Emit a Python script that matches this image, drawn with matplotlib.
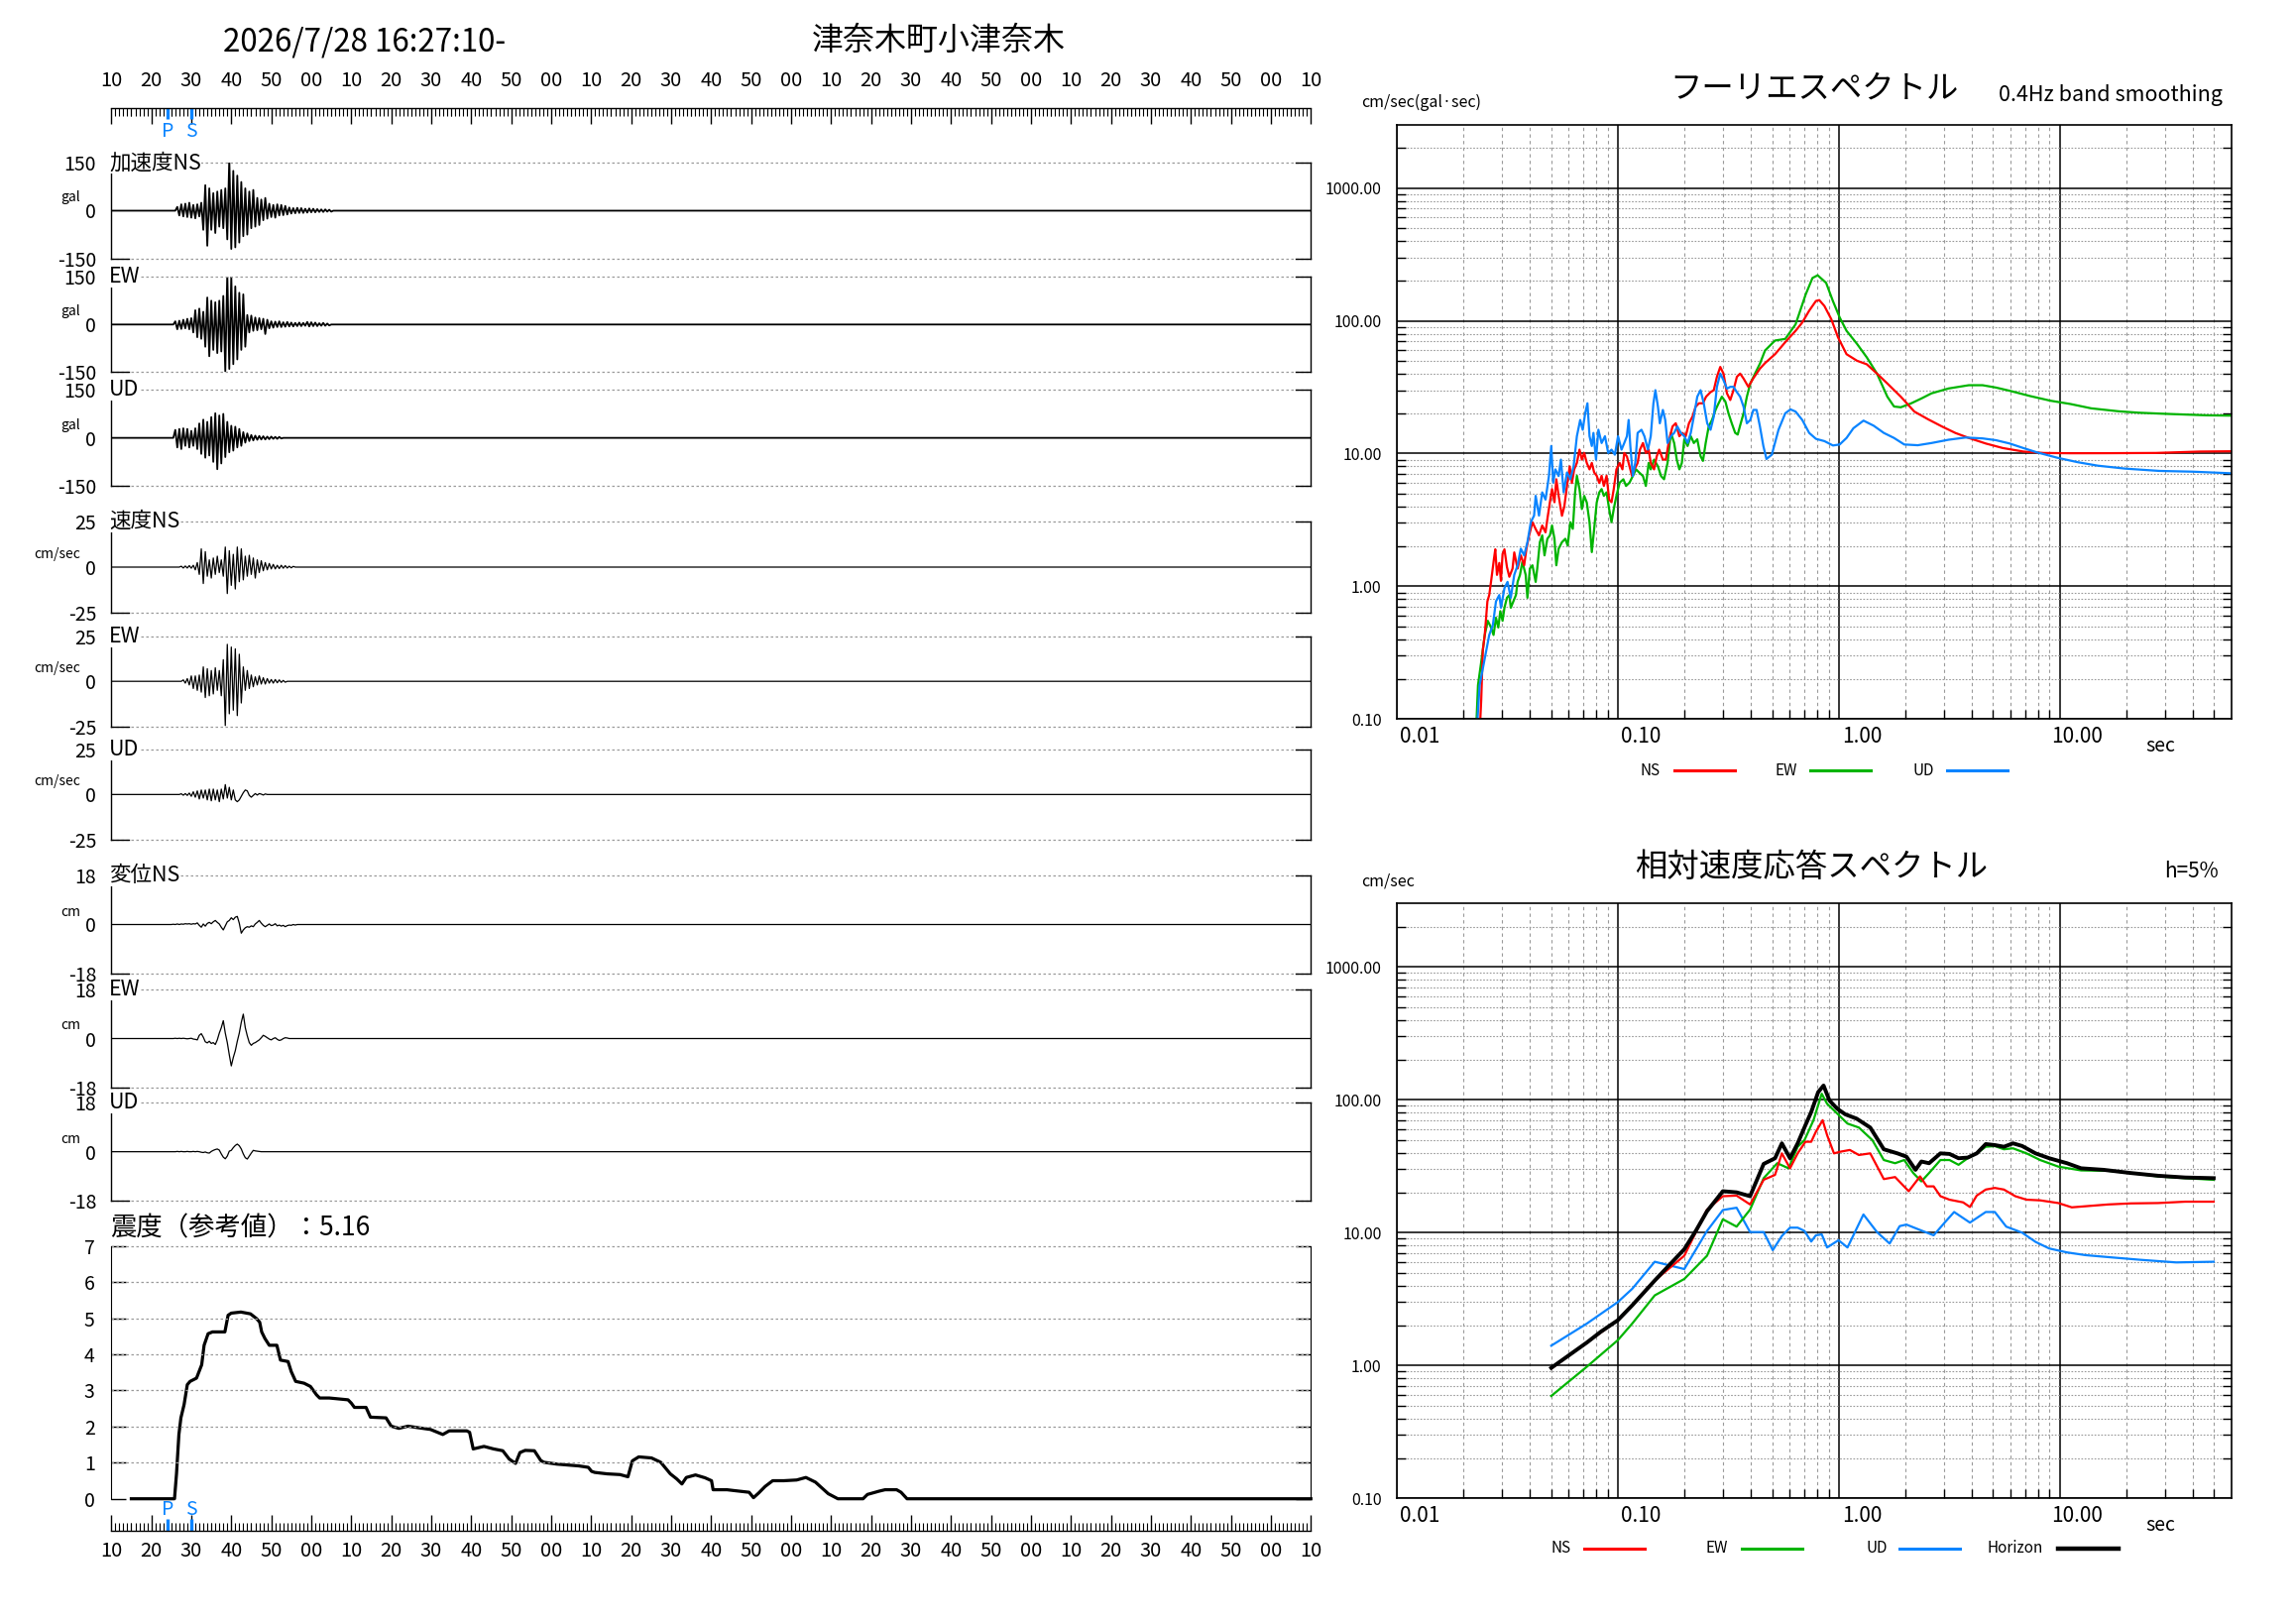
import numpy as np
import matplotlib
matplotlib.use("Agg")
import matplotlib.pyplot as plt
from matplotlib.lines import Line2D
from matplotlib.ticker import FixedLocator, NullFormatter, MultipleLocator
from matplotlib.transforms import ScaledTranslation

plt.rcParams['font.family'] = ['Noto Sans CJK JP', 'DejaVu Sans']

# ------------------------------------------------------------------ data
start_label = "2026/7/28 16:27:10-"
station = "津奈木町小津奈木"
T_END = 300          # seconds shown (16:27:10 + 300 s)
DT = 0.5             # sample step of the traced waveforms (s)
phase_names = ["P", "S"]
phase_times = [14.0, 20.0]

# acceleration (gal)
acc_ns_t0 = 16.0
acc_ns = [0, 12, -15, 20, -18, 22, -20, 25, -22, 18,
          -24, 20, -18, 25, -60, 80, -110, 70, -60, 55,
          -70, 60, -50, 65, -55, 70, -90, 165, -120, 125,
          -115, 110, -100, 90, -80, 70, -75, 60, -55, 65,
          -50, 40, -45, 35, -30, 40, -25, 22, -20, 18,
          -22, 20, -15, 18, -14, 15, -12, 10, -9, 8,
          -8, 9, -7, 8, -7, 6, -6, 7, -5, 6,
          -5, 5, -4, 4, -4, 4, -3, 3, -3, 0]
acc_ew_t0 = 15.5
acc_ew = [0, 10, -15, 12, -14, 15, -12, 18, -15, 20,
          -25, 45, -40, 50, -45, 40, -70, 85, -100, 75,
          -80, 70, -90, 75, -85, 90, -148, 163, -140, 155,
          -125, 120, -110, 100, -80, 95, -70, 30, -25, 28,
          -20, 22, -18, 20, -15, 18, -30, 15, -12, 10,
          -10, 9, -8, 10, -8, 7, -7, 8, -6, 6,
          -6, 5, -5, 6, -5, 5, -4, 8, -6, 7,
          -5, 6, -5, 4, -4, 5, -4, 3, -3, 0]
acc_ud_t0 = 15.5
acc_ud = [0, 25, -30, 28, -35, 30, -25, 28, -30, 22,
          -25, 30, -35, 45, -50, 57, -62, 50, -55, 65,
          -75, 77, -98, 70, -80, 75, -60, 50, -45, 38,
          -40, 35, -30, 28, -25, 18, -15, 14, -10, 9,
          -8, 7, -6, 6, -5, 5, -5, 4, -4, 4,
          -3, 3, -3, 3, -2, 0]

# velocity (cm/sec)
vel_ns_t0 = 17.0
vel_ns = [0, 0.5, -0.5, 0.6, -0.5, 0.8, -0.6, 1, -1.5, 2.5,
          -4, 10, -9, 8.5, -5, 4, -6, 5, -4, 6,
          -3, 4, -5, 11, -14.5, 9, -10, 7, -12, 11,
          -8, 10, -7, 6, -5, 6.5, -4, 5, -6, 4,
          -3, 3.5, -2, 2.5, -1.5, 2, -1, 1.5, -1, 1,
          -0.8, 1, -0.6, 0.8, -0.5, 0.5, -0.4, 0.4, 0]
vel_ew_t0 = 17.5
vel_ew = [0, 0.8, -1, 1.5, -2, 3, -4, 3, -5, 3.5,
          -6, 8, -9, 7, -8, 6, -7, 7.5, -5, 6,
          -8, 12, -24.5, 20.5, -18, 19, -16, 18, -19, 15,
          -12, 8, -5, 6, -4, 3.5, -3, 2.5, -2, 3,
          -1.5, 2, -1.5, 1.5, -1, 1, -1, 1, -0.8, 0.8,
          -0.6, 0.5, -0.5, 0]
vel_ud_t0 = 17.0
vel_ud = [0, 0.4, -0.4, 0.5, -0.5, 0.8, -1, 1.5, -1.5, 2,
          -2.5, 2.5, -2, 2.5, -3, 3, -3.5, 3, -3, 2.5,
          -4, 3, -2.5, 5.5, -2, 4, -3, 2.5, -3, -4,
          -3, -1, 1, 2.5, 2, -0.5, -1.5, -0.5, 0.5, -0.3,
          0.5, 0.2, -0.3, 0.3, 0]

# displacement (cm)
dis_ns_t0 = 15.0
dis_ns = [0, 0.1, 0, 0.2, 0, 0.2, 0.1, 0.3, 0.2, 0.3,
          0.1, 0.3, 0.2, 0.6, -0.3, -1.0, 0.2, -0.6, 0.4, 0.8,
          0.3, 1.0, 1.5, 0.8, 0.2, -1.0, -2.0, -0.5, 1.0, 1.5,
          2.5, 1.8, 2.7, 3.0, 0.5, -3.2, -2.0, -1.2, -0.8, -1.0,
          -0.5, -0.8, 0.2, 0.8, 1.5, 0.5, -0.3, -0.8, -0.3, 0.2,
          -0.4, -0.2, 0.3, -0.5, -0.2, -0.6, -0.3, -0.8, -0.4, -0.2,
          -0.3, 0, -0.2, 0]
dis_ew_t0 = 15.0
dis_ew = [0, 0, 0.1, 0, 0.1, 0, 0.1, 0, -0.1, 0,
          0.1, -0.2, -0.3, -0.5, 1.2, 1.8, 0.5, -1.2, -1.6, -1.0,
          -1.8, -1.5, -2.2, -0.5, 2.0, 4.0, 6.6, 2.0, -1.5, -6.0,
          -10.1, -7.0, -4.5, -1.0, 2.0, 6.0, 9.0, 4.0, 1.0, -1.5,
          -2.5, -1.8, -1.5, -1.0, -0.5, 0.3, 1.2, 0.8, 0.3, -0.2,
          -0.5, 0, 0.3, -0.3, -0.7, -0.5, 0, 0.3, 0.2, 0]
dis_ud_t0 = 15.0
dis_ud = [0, 0, 0, 0.1, 0, 0.1, 0, 0, 0.1, 0,
          0, 0.1, 0, 0.1, 0, -0.2, -0.3, -0.1, -0.4, -0.5,
          0.1, 0.5, 0.8, 1.0, 0.6, -0.8, -2.0, -2.6, -1.6, 0.2,
          0.5, 1.5, 2.3, 2.8, 2.2, 1.0, -0.8, -2.2, -2.7, -1.6,
          -0.5, 0.5, 0.3, 0.2, 0.1, 0]

# real-time seismic intensity (s after 16:27:10, value)
shindo_label = "震度（参考値）：5.16"
shindo_t = [5, 15.8, 16.3, 16.9, 17.4, 18.2, 19.0, 19.7, 21.3, 22.6,
            23.2, 24.2, 25.3, 28.4, 29.2, 30.0, 32.4, 34.8, 36.3, 37.1,
            37.6, 38.4, 39.5, 41.4, 42.3, 44.2, 45.0, 46.1, 48.2, 49.8,
            51.3, 52.1, 54.5, 59.2, 60.0, 60.8, 63.7, 64.8, 68.7, 70.0,
            71.9, 74.2, 76.6, 79.8, 82.9, 84.5, 88.9, 89.6, 90.5, 93.2,
            95.6, 97.9, 99.5, 101.1, 102.2, 103.5, 105.8, 107.4, 108.2, 111.4,
            116.9, 119.3, 120.1, 120.9, 124.0, 127.2, 129.2, 130.3, 131.9, 135.1,
            137.4, 139.8, 141.4, 142.7, 143.8, 146.1, 148.5, 150.1, 150.5, 154.0,
            155.5, 159.5, 160.6, 161.9, 163.5, 165.4, 168.2, 171.4, 173.7, 176.1,
            177.7, 179.3, 181.7, 188.0, 189.1, 192.0, 193.5, 196.4, 197.5, 199.0,
            300]
shindo_v = [0, 0, 0.69, 1.78, 2.24, 2.61, 3.16, 3.25, 3.34, 3.71,
            4.25, 4.57, 4.62, 4.62, 5.08, 5.14, 5.17, 5.12, 4.99, 4.89,
            4.62, 4.44, 4.25, 4.25, 3.84, 3.80, 3.52, 3.25, 3.20, 3.11,
            2.88, 2.79, 2.79, 2.74, 2.65, 2.53, 2.53, 2.26, 2.24, 2.01,
            1.95, 2.01, 1.97, 1.92, 1.78, 1.88, 1.88, 1.84, 1.38, 1.45,
            1.38, 1.33, 1.10, 0.98, 1.28, 1.34, 1.33, 1.06, 1.01, 0.96,
            0.91, 0.87, 0.76, 0.73, 0.69, 0.67, 0.61, 1.05, 1.16, 1.13,
            1.01, 0.69, 0.55, 0.41, 0.59, 0.66, 0.58, 0.50, 0.25, 0.25,
            0.23, 0.18, 0.03, 0.16, 0.34, 0.50, 0.50, 0.52, 0.59, 0.46,
            0.30, 0.14, 0, 0, 0.12, 0.21, 0.25, 0.25, 0.18, 0,
            0]

# Fourier spectra (period s, cm/sec)
fs_ns_T = [0.0238, 0.0241, 0.0245, 0.0250, 0.0257, 0.0262, 0.0268, 0.0275, 0.0279, 0.0284,
           0.0291, 0.0296, 0.0301, 0.0307, 0.0315, 0.0323, 0.0334, 0.0340, 0.0352, 0.0364,
           0.0377, 0.0386, 0.0397, 0.0411, 0.0425, 0.0440, 0.0455, 0.0471, 0.0480, 0.0493,
           0.0504, 0.0517, 0.0527, 0.0540, 0.0559, 0.0573, 0.0589, 0.0606, 0.0620, 0.0635,
           0.0653, 0.0671, 0.0688, 0.0705, 0.0724, 0.0745, 0.0763, 0.0782, 0.0803, 0.0825,
           0.0845, 0.0865, 0.0890, 0.0914, 0.0937, 0.0959, 0.0986, 0.102, 0.105, 0.107,
           0.110, 0.113, 0.116, 0.119, 0.123, 0.126, 0.130, 0.134, 0.138, 0.141,
           0.146, 0.150, 0.154, 0.160, 0.165, 0.171, 0.177, 0.183, 0.190, 0.196,
           0.203, 0.210, 0.218, 0.225, 0.233, 0.243, 0.251, 0.263, 0.272, 0.281,
           0.291, 0.301, 0.312, 0.323, 0.334, 0.346, 0.358, 0.371, 0.390, 0.410,
           0.440, 0.464, 0.515, 0.573, 0.638, 0.684, 0.735, 0.789, 0.817, 0.862,
           0.925, 0.993, 1.085, 1.21, 1.34, 1.49, 1.66, 1.91, 2.2, 2.54,
           2.93, 3.37, 3.88, 4.63, 5.53, 6.85, 8.47, 11.2, 16.0, 27.2,
           43.2, 59.8]
fs_ns_A = [0.09, 0.14, 0.33, 0.43, 0.77, 0.86, 1.14, 1.6, 1.9, 1.22,
           1.5, 1.1, 1.75, 1.9, 1.4, 1.18, 1.36, 1.8, 1.36, 1.71,
           1.44, 1.92, 2.42, 3.04, 2.7, 2.42, 2.87, 2.55, 3.2, 4.3,
           5.4, 4.3, 6.4, 4.8, 3.4, 4.0, 5.7, 8.0, 6.0, 7.6,
           8.5, 10.7, 9.0, 10.1, 8.5, 7.6, 8.5, 7.2, 6.8, 6.0,
           6.8, 5.7, 6.8, 4.5, 4.3, 5.4, 7.6, 8.5, 7.6, 10.1,
           9.5, 8.0, 6.8, 7.6, 8.5, 10.7, 12.0, 10.1, 10.7, 8.5,
           7.6, 9.5, 10.7, 9.0, 9.0, 12.8, 16.0, 16.9, 13.5, 14.3,
           13.5, 16.9, 19.0, 22.5, 23.9, 23.9, 26.8, 29.0, 30.0, 37.8,
           44.9, 40.0, 28.4, 25.3, 30.0, 37.8, 40.0, 36.7, 31.8, 36.7,
           43.6, 48, 56, 69, 84, 97, 119, 141, 143, 129,
           103, 75, 56, 50, 47, 40, 33.7, 26.8, 20.7, 18.1,
           16.0, 14.3, 13.1, 11.9, 11.0, 10.35, 10.1, 10.05, 10.06, 10.1,
           10.35, 10.4]

fs_ew_T = [0.0229, 0.0233, 0.0241, 0.0250, 0.0258, 0.0267, 0.0274, 0.0281, 0.0288, 0.0294,
           0.0301, 0.0307, 0.0315, 0.0323, 0.0328, 0.0337, 0.0346, 0.0352, 0.0361, 0.0370,
           0.0383, 0.0390, 0.0400, 0.0411, 0.0425, 0.0432, 0.0444, 0.0455, 0.0466, 0.0480,
           0.0493, 0.0504, 0.0517, 0.0527, 0.0540, 0.0559, 0.0579, 0.0593, 0.0610, 0.0626,
           0.0641, 0.0653, 0.0671, 0.0688, 0.0705, 0.0724, 0.0745, 0.0763, 0.0782, 0.0803,
           0.0825, 0.0845, 0.0865, 0.0890, 0.0914, 0.0937, 0.0959, 0.0986, 0.102, 0.106,
           0.109, 0.113, 0.117, 0.121, 0.125, 0.130, 0.134, 0.138, 0.141, 0.146,
           0.152, 0.157, 0.162, 0.168, 0.174, 0.180, 0.185, 0.190, 0.195, 0.200,
           0.207, 0.214, 0.221, 0.229, 0.237, 0.243, 0.250, 0.258, 0.267, 0.277,
           0.286, 0.296, 0.307, 0.317, 0.328, 0.340, 0.349, 0.357, 0.371, 0.384,
           0.398, 0.418, 0.440, 0.464, 0.515, 0.573, 0.638, 0.709, 0.761, 0.803,
           0.877, 0.941, 1.01, 1.085, 1.21, 1.34, 1.49, 1.66, 1.78, 1.91,
           2.13, 2.37, 2.63, 3.14, 3.88, 4.48, 5.15, 5.94, 7.35, 9.08,
           11.2, 13.9, 18.5, 22.8, 30.3, 46.4, 59.8]
fs_ew_A = [0.09, 0.18, 0.27, 0.43, 0.55, 0.49, 0.43, 0.58, 0.49, 0.65,
           0.55, 0.69, 0.82, 0.86, 0.69, 0.77, 0.86, 1.08, 1.22, 1.53,
           1.22, 0.82, 1.36, 1.44, 1.08, 1.36, 2.15, 2.42, 1.71, 2.28,
           2.42, 2.87, 2.28, 1.44, 1.92, 2.15, 2.28, 2.03, 3.04, 2.71,
           5.1, 6.8, 5.4, 3.82, 4.8, 4.28, 3.04, 1.81, 2.71, 4.28,
           5.1, 5.4, 4.8, 5.1, 3.82, 3.04, 3.82, 4.8, 6.04, 6.4,
           5.7, 6.04, 6.77, 7.6, 7.2, 6.77, 5.7, 8.5, 7.6, 9.0,
           8.0, 6.77, 6.4, 8.5, 14.3, 12.0, 9.0, 7.6, 8.5, 12.8,
           11.4, 13.5, 12.0, 12.8, 9.55, 8.8, 12.0, 16.0, 17.9, 21.3,
           23.9, 26.8, 24.6, 20.1, 16.9, 14.3, 13.9, 16.0, 20.1, 26.8,
           33.7, 40, 47.5, 59.7, 71, 73, 94, 158, 210, 220,
           193, 141, 106, 84, 67, 53, 40, 26.8, 22.6, 22.3,
           23.9, 26, 28.4, 30.9, 32.7, 32.7, 31.4, 29.7, 27.1, 25,
           23.6, 21.9, 20.8, 20.3, 19.9, 19.4, 19.3]

fs_ud_T = [0.0231, 0.0237, 0.0245, 0.0254, 0.0262, 0.0272, 0.0281, 0.0291, 0.0296, 0.0307,
           0.0317, 0.0328, 0.0340, 0.0352, 0.0364, 0.0377, 0.0390, 0.0404, 0.0418, 0.0425,
           0.0440, 0.0455, 0.0471, 0.0488, 0.0500, 0.0510, 0.0522, 0.0540, 0.0553, 0.0569,
           0.0589, 0.0610, 0.0631, 0.0653, 0.0676, 0.0694, 0.0712, 0.0729, 0.0745, 0.0763,
           0.0776, 0.0797, 0.0817, 0.0845, 0.0875, 0.0905, 0.0937, 0.0970, 0.1003, 0.104,
           0.107, 0.110, 0.112, 0.114, 0.117, 0.120, 0.123, 0.128, 0.132, 0.137,
           0.141, 0.145, 0.148, 0.152, 0.155, 0.160, 0.164, 0.168, 0.174, 0.180,
           0.186, 0.193, 0.200, 0.207, 0.214, 0.221, 0.229, 0.237, 0.245, 0.254,
           0.263, 0.272, 0.281, 0.291, 0.301, 0.312, 0.323, 0.334, 0.346, 0.358,
           0.371, 0.384, 0.398, 0.411, 0.425, 0.440, 0.456, 0.471, 0.498, 0.534,
           0.573, 0.605, 0.638, 0.684, 0.735, 0.789, 0.862, 0.942, 1.01, 1.085,
           1.165, 1.295, 1.44, 1.6, 1.78, 1.98, 2.28, 2.63, 3.14, 3.75,
           4.48, 5.15, 5.94, 6.85, 7.9, 9.75, 12.1, 14.9, 19.8, 28.2,
           40.2, 59.8]
fs_ud_A = [0.09, 0.18, 0.24, 0.33, 0.43, 0.51, 0.77, 0.86, 0.69, 0.97,
           1.08, 0.82, 1.22, 1.44, 1.92, 1.71, 2.15, 3.04, 3.41, 4.8,
           3.41, 5.1, 4.5, 6.77, 11.4, 6.04, 7.6, 6.77, 9.0, 5.1,
           7.2, 6.4, 8.0, 13.5, 17.9, 15.1, 20.1, 23.9, 13.5, 11.4,
           14.3, 9.0, 15.1, 12.0, 13.5, 10.1, 10.7, 9.8, 13.5, 10.7,
           12.0, 13.5, 17.9, 11.4, 6.77, 8.5, 14.3, 15.1, 13.5, 10.7,
           13.5, 23.9, 30.0, 22.5, 16.9, 21.3, 17.9, 12.0, 13.5, 14.3,
           16.0, 14.3, 13.5, 12.0, 14.3, 19.0, 26.8, 30.0, 23.9, 16.9,
           15.1, 19.0, 31.8, 40.0, 35.7, 30.8, 31.8, 31.8, 29.0, 26.8,
           22.5, 16.9, 17.9, 21.3, 21.3, 16.0, 11.4, 9.1, 9.8, 15.1,
           20.1, 21.5, 20.7, 17.9, 14.3, 12.9, 12.4, 11.5, 11.7, 13.1,
           15.5, 17.7, 16.2, 14.3, 13.1, 11.7, 11.55, 12.0, 12.7, 13.2,
           13.0, 12.6, 11.9, 11.0, 10.2, 9.3, 8.6, 8.1, 7.7, 7.4,
           7.3, 7.1]

# relative velocity response spectra, h=5% (period s, cm/sec)
rs_hz_T = [0.05, 0.0725, 0.0836, 0.1, 0.1163, 0.147, 0.2, 0.2255, 0.2535, 0.299,
           0.345, 0.397, 0.4575, 0.515, 0.553, 0.602, 0.652, 0.707, 0.751, 0.807,
           0.854, 0.908, 0.984, 1.071, 1.205, 1.389, 1.6, 1.844, 2.026, 2.227,
           2.367, 2.565, 2.887, 3.174, 3.488, 3.834, 4.214, 4.63, 5.09, 5.595,
           6.15, 6.76, 7.78, 8.97, 10.8, 12.5, 15.8, 21, 27.9, 37, 49.8]
rs_hz_A = [0.96, 1.49, 1.79, 2.19, 2.84, 4.36, 7.5, 10.3, 14.5, 20.5,
           20.1, 18.8, 32.9, 36.3, 47, 36.3, 47, 64.4, 80.9, 114,
           128, 98.9, 85.7, 77.7, 72.1, 61.8, 42.4, 39.5, 37.3, 29.7,
           34.3, 33.3, 39.5, 39.1, 36.3, 36.7, 39.5, 46.4, 45.6, 44.3,
           47, 44.9, 39.5, 36.3, 33.3, 30.5, 29.7, 28.1, 26.8, 26, 25.7]
rs_ew_T = [0.05, 0.0725, 0.1, 0.1163, 0.147, 0.2, 0.2535, 0.299, 0.345, 0.397,
           0.4575, 0.527, 0.593, 0.652, 0.70, 0.769, 0.838, 0.886, 0.952, 1.096,
           1.234, 1.42, 1.6, 1.8, 1.979, 2.175, 2.367, 2.565, 2.887, 3.174,
           3.488, 3.834, 4.214, 4.63, 5.09, 5.595, 6.15, 7.08, 8.16, 9.86,
           12.5, 16.6, 21, 27.9, 37, 49.8]
rs_ew_A = [0.59, 0.98, 1.55, 2.07, 3.37, 4.48, 6.7, 12.6, 11.1, 14.9,
           25.7, 33.3, 30.5, 44.3, 49.7, 70.2, 111, 93.3, 83.2, 66.2,
           61.8, 49.7, 35.2, 33.3, 35.2, 28.1, 24.3, 28.1, 35.2, 35.2,
           32.4, 36.3, 39.5, 44.3, 44.8, 42.4, 43.1, 39.5, 35.2, 31.4,
           29.4, 29.2, 28.1, 26.5, 25.7, 25.0]
rs_ns_T = [0.05, 0.0725, 0.1, 0.1163, 0.147, 0.2, 0.2535, 0.299, 0.345, 0.397,
           0.4575, 0.515, 0.553, 0.602, 0.652, 0.707, 0.751, 0.788, 0.846, 0.886,
           0.952, 1.021, 1.123, 1.234, 1.389, 1.6, 1.8, 2.074, 2.335, 2.505,
           2.69, 2.887, 3.174, 3.656, 3.926, 4.214, 4.63, 5.09, 5.595, 6.3,
           7.08, 8.16, 9.86, 11.35, 13.1, 16.6, 21, 27.9, 37, 49.8]
rs_ns_A = [0.95, 1.49, 2.19, 2.84, 4.36, 6.7, 14.9, 18.8, 19.0, 16.3,
           25.0, 27.2, 39.5, 30.5, 39.5, 48.3, 48.3, 57.4, 70.2, 54.2,
           39.5, 40.7, 41.9, 38.4, 39.5, 25.3, 26.2, 20.5, 26.5, 22.3,
           22.3, 18.8, 17.7, 16.9, 15.6, 19.0, 21.1, 21.7, 21.1, 18.8,
           17.7, 17.5, 16.7, 15.5, 15.8, 16.3, 16.6, 16.7, 17.1, 17.1]
rs_ud_T = [0.05, 0.0725, 0.1, 0.1163, 0.147, 0.2, 0.2535, 0.299, 0.345, 0.397,
           0.4575, 0.503, 0.553, 0.602, 0.652, 0.70, 0.751, 0.788, 0.838, 0.886,
           0.998, 1.096, 1.294, 1.49, 1.70, 1.888, 2.026, 2.393, 2.69, 3.03,
           3.33, 3.926, 4.63, 5.09, 5.73, 6.76, 7.78, 8.97, 10.8, 13.1,
           17.4, 23.1, 33.7, 49.8]
rs_ud_A = [1.41, 2.07, 3.0, 3.78, 6.04, 5.32, 10.3, 14.8, 15.4, 10.1,
           10.1, 7.38, 9.44, 10.9, 10.9, 10.3, 8.57, 9.55, 9.7, 7.73,
           8.77, 7.73, 13.7, 10.1, 8.28, 11.2, 11.5, 10.3, 9.55, 12.0,
           14.3, 11.9, 14.3, 14.3, 11.1, 10.0, 8.52, 7.6, 7.1, 6.77,
           6.5, 6.25, 5.97, 6.04]

RED, GREEN, BLUE = '#ff0000', '#00b400', '#0a84ff'

# ------------------------------------------------------------------ figure
W, H = 2316, 1637
fig = plt.figure(figsize=(W / 100, H / 100), dpi=100)


def rect(x0, y0, x1, y1):
    # pixel box (top-left origin) -> figure fraction
    return [x0 / W, 1 - y1 / H, (x1 - x0) / W, (y1 - y0) / H]


def ftext(x, y, s, **kw):
    kw.setdefault('va', 'center')
    fig.text(x / W, 1 - y / H, s, **kw)


def fline(x0, x1, y, **kw):
    fig.add_artist(Line2D([x0 / W, x1 / W], [1 - y / H, 1 - y / H], **kw))


XL, XR = 112.3, 1322.3
GRAY = '#9a9a9a'

ftext(368, 43, start_label, ha='center', fontsize=22.5)
ftext(947, 41, station, ha='center', fontsize=23)

# waveform panels
panels = [
    ("加速度NS", "gal", 150, acc_ns_t0, acc_ns, 164.3, 260.7, 1.3),
    ("EW", "gal", 150, acc_ew_t0, acc_ew, 279.3, 375.3, 1.3),
    ("UD", "gal", 150, acc_ud_t0, acc_ud, 393.3, 490.0, 1.3),
    ("速度NS", "cm/sec", 25, vel_ns_t0, vel_ns, 526.0, 618.0, 0.9),
    ("EW", "cm/sec", 25, vel_ew_t0, vel_ew, 641.7, 732.7, 0.9),
    ("UD", "cm/sec", 25, vel_ud_t0, vel_ud, 756.0, 846.7, 0.9),
    ("変位NS", "cm", 18, dis_ns_t0, dis_ns, 883.3, 981.7, 0.9),
    ("EW", "cm", 18, dis_ew_t0, dis_ew, 998.3, 1096.7, 0.9),
    ("UD", "cm", 18, dis_ud_t0, dis_ud, 1112.3, 1211.0, 0.9),
]
for name, unit, lim, t0, vals, top, bot, lw in panels:
    ax = fig.add_axes(rect(XL, top, XR, bot))
    ax.patch.set_alpha(0)
    t = t0 + DT * np.arange(len(vals))
    ax.plot(np.r_[0, t, T_END], np.r_[0, vals, 0], color='black', lw=lw)
    ax.set_xlim(0, T_END)
    ax.set_ylim(-lim, lim)
    for y in (lim, -lim):
        ax.axhline(y, color=GRAY, ls=(0, (2, 2)), lw=0.9, clip_on=False)
    ax.spines['top'].set_visible(False)
    ax.spines['bottom'].set_visible(False)
    ax.spines['left'].set_linewidth(1.0)
    ax.spines['right'].set_linewidth(1.0)
    ax.set_xticks([])
    ax.set_yticks([lim, 0, -lim])
    ax.set_yticklabels([str(lim), '0', '-%d' % lim])
    ax.tick_params(axis='y', length=0, pad=11, labelsize=14)
    seg = dict(transform=ax.transAxes, color='black', lw=1.0, clip_on=False)
    ax.plot([0, 0.015], [0, 0], **seg)
    ax.plot([0.987, 1], [0, 0], **seg)
    ax.plot([0.987, 1], [1, 1], **seg)
    ax.text(-0.002, 1, name, transform=ax.transAxes, ha='left', va='center',
            fontsize=15.5, bbox=dict(fc='white', ec='none', pad=0))
    ax.text(-0.026, 0.5 + 13 / (bot - top), unit, transform=ax.transAxes,
            ha='right', va='center', fontsize=10)

# seismic intensity panel
ax = fig.add_axes(rect(XL, 1256.7, XR, 1511.7))
ax.patch.set_alpha(0)
ax.plot(shindo_t, shindo_v, color='black', lw=2.3, clip_on=False)
ax.set_xlim(0, T_END)
ax.set_ylim(0, 7)
for k in range(1, 8):
    ax.axhline(k, color=GRAY, ls=(0, (2, 2)), lw=0.9, clip_on=False)
ax.spines['top'].set_visible(False)
ax.spines['bottom'].set_visible(False)
ax.set_xticks([])
ax.set_yticks(range(8))
ax.tick_params(axis='y', direction='in', length=10.5, width=1.0, left=True,
               right=True, pad=12, labelsize=14)
ax.text(-0.001, 1.07, shindo_label, transform=ax.transAxes, ha='left',
        va='center', fontsize=19)

# time rulers
tick_labels = ['%02d' % ((10 + s) % 60) for s in range(0, T_END + 1, 10)]


def ruler(top, bot, at_top):
    ax = fig.add_axes(rect(XL, top, XR, bot))
    ax.patch.set_alpha(0)
    ax.set_xlim(0, T_END)
    ax.set_ylim(0, 1)
    ax.set_yticks([])
    keep = 'top' if at_top else 'bottom'
    for s in ax.spines:
        ax.spines[s].set_visible(s == keep)
    ax.spines[keep].set_linewidth(1.0)
    ax.xaxis.set_ticks_position(keep)
    ax.set_xticks(range(0, T_END + 1, 10))
    ax.set_xticklabels(tick_labels)
    ax.xaxis.set_minor_locator(MultipleLocator(1))
    ax.tick_params(which='major', direction='in', length=11.5, width=1.0,
                   labelsize=14.5, pad=12 if at_top else 7)
    ax.tick_params(which='minor', direction='in', length=5.6, width=0.8)
    h = bot - top
    tr = ax.get_xaxis_transform()
    mids = np.arange(5, T_END, 10)
    if at_top:
        ax.vlines(mids, 1 - 8.5 / h, 1, transform=tr, color='black', lw=0.8)
        ax.vlines(phase_times, 1 - 11 / h, 1, transform=tr, color=BLUE, lw=2.4)
        ty = (bot - 132) / h
    else:
        ax.vlines(mids, 0, 8.5 / h, transform=tr, color='black', lw=0.8)
        ax.vlines(phase_times, 0, 12 / h, transform=tr, color=BLUE, lw=2.4)
        ty = (bot - 1523) / h
    for nm, tp in zip(phase_names, phase_times):
        ax.text(tp, ty, nm, transform=tr, ha='center', va='center',
                color=BLUE, fontsize=14)


ruler(109, 142, True)
ruler(1512, 1544, False)

# spectra
XMAJ = [0.01, 0.1, 1, 10]
YMAJ = [0.1, 1, 10, 100, 1000]


def spec_axes(top, bot):
    ax = fig.add_axes(rect(1409, top, 2251, bot))
    ax.set_xscale('log')
    ax.set_yscale('log')
    ax.set_xlim(0.01, 60)
    ax.set_ylim(0.1, 3000)
    ax.xaxis.set_major_locator(FixedLocator(XMAJ))
    ax.yaxis.set_major_locator(FixedLocator(YMAJ))
    ax.xaxis.set_minor_locator(FixedLocator(
        [m * d for d in XMAJ for m in range(2, 10) if m * d < 60]))
    ax.yaxis.set_minor_locator(FixedLocator(
        [m * d for d in YMAJ for m in range(2, 10) if m * d < 3000]))
    ax.xaxis.set_minor_formatter(NullFormatter())
    ax.yaxis.set_minor_formatter(NullFormatter())
    ax.set_xticklabels(['0.01', '0.10', '1.00', '10.00'])
    ax.set_yticklabels(['0.10', '1.00', '10.00', '100.00', '1000.00'])
    ax.grid(True, which='major', color='black', lw=1.1)
    ax.xaxis.grid(True, which='minor', color=GRAY, ls=(0, (3, 3)), lw=0.8)
    ax.yaxis.grid(True, which='minor', color=GRAY, ls=(0, (1.5, 1.5)), lw=0.8)
    ax.tick_params(which='major', length=0)
    ax.tick_params(axis='x', which='major', labelsize=15, pad=5)
    ax.tick_params(axis='y', which='major', labelsize=11.5, pad=11)
    ax.tick_params(which='minor', direction='in', length=6.2, width=1.0,
                   left=True, right=True, bottom=True, top=False)
    shift = ScaledTranslation(0.435, 0, fig.dpi_scale_trans)
    for lab in ax.get_xticklabels():
        lab.set_ha('right')
        lab.set_transform(lab.get_transform() + shift)
    for s in ax.spines.values():
        s.set_linewidth(1.2)
    return ax


axf = spec_axes(125.7, 725.3)
axf.plot(fs_ew_T, fs_ew_A, color=GREEN, lw=1.6)
axf.plot(fs_ns_T, fs_ns_A, color=RED, lw=1.6)
axf.plot(fs_ud_T, fs_ud_A, color=BLUE, lw=1.6)
ftext(1830, 90, "フーリエスペクトル", ha='center', fontsize=23.3)
ftext(2242, 96, "0.4Hz band smoothing", ha='right', fontsize=15.5)
ftext(1373, 103, "cm/sec(gal·sec)", ha='left', fontsize=11.5)
ftext(2179, 753, "sec", ha='center', fontsize=14)
for nm, col, tx, x0 in [("NS", RED, 1665, 1689), ("EW", GREEN, 1802, 1826),
                        ("UD", BLUE, 1940, 1964)]:
    ftext(tx, 777, nm, ha='center', fontsize=11)
    fline(x0, x0 + 61, 777, color=col, lw=2.2)

axr = spec_axes(911.3, 1511.3)
axr.plot(rs_ud_T, rs_ud_A, color=BLUE, lw=1.6)
axr.plot(rs_ew_T, rs_ew_A, color=GREEN, lw=1.6)
axr.plot(rs_ns_T, rs_ns_A, color=RED, lw=1.6)
axr.plot(rs_hz_T, rs_hz_A, color='black', lw=2.8)
ftext(1827, 875, "相対速度応答スペクトル", ha='center', fontsize=23.3)
ftext(2238, 879, "h=5%", ha='right', fontsize=15)
ftext(1373, 889, "cm/sec", ha='left', fontsize=11.5)
ftext(2179, 1539, "sec", ha='center', fontsize=14)
for nm, col, tx, x0, w in [("NS", RED, 1575, 1598, 2.2), ("EW", GREEN, 1732, 1757, 2.2),
                           ("UD", BLUE, 1893, 1916, 2.2), ("Horizon", 'black', 2033, 2076, 3.2)]:
    ftext(tx, 1562, nm, ha='center', fontsize=11)
    fline(x0, x0 + 61, 1562, color=col, lw=w)

fig.savefig("out.png", dpi=100)
